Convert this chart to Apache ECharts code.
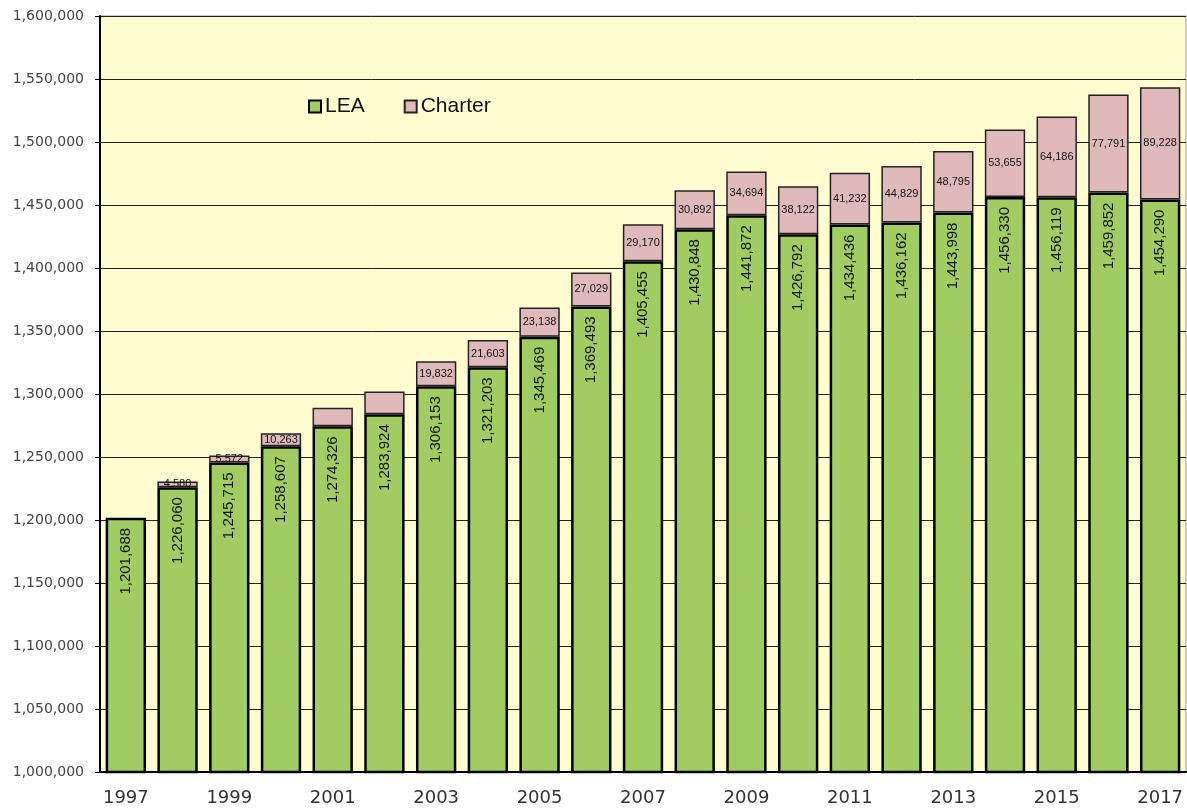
<!DOCTYPE html>
<html lang="en">
<head>
    <meta charset="UTF-8">
    <title>LEA and Charter enrollment</title>
    <style>
        html, body { margin: 0; padding: 0; background: #fff; }
        #chart { width: 1187px; height: 812px; }
    </style>
</head>
<body>
<div id="chart"></div>
<script src="https://cdn.jsdelivr.net/npm/echarts@6/dist/echarts.min.js"></script>
<script>
    var years = ['1997', '1998', '1999', '2000', '2001', '2002', '2003', '2004', '2005', '2006', '2007',
        '2008', '2009', '2010', '2011', '2012', '2013', '2014', '2015', '2016', '2017'];
    var leaValues = [1201688, 1226060, 1245715, 1258607, 1274326, 1283924, 1306153, 1321203, 1345469, 1369493,
        1405455, 1430848, 1441872, 1426792, 1434436, 1436162, 1443998, 1456330, 1456119, 1459852, 1454290];
    // 2001 and 2002 charter values have no label in the original
    var charterValues = [null, 4580, 5572, 10263, 14800, 18000, 19832, 21603, 23138, 27029,
        29170, 30892, 34694, 38122, 41232, 44829, 48795, 53655, 64186, 77791, 89228];
    var unlabelledCharter = ['2001', '2002'];
    var yMin = 1000000, yMax = 1600000, yStep = 50000;

    function fmt(v) {
        return Number(v).toLocaleString('en-US');
    }

    var myChart = echarts.init(document.getElementById('chart'));
    var option = {
        animation: false,
        textStyle: { fontFamily: 'DejaVu Sans' },
        grid: {
            left: 100, right: 1, top: 16, bottom: 40,
            show: true,
            backgroundColor: '#fffdd0',
            borderColor: '#999',
            borderWidth: 1
        },
        legend: {
            left: 303, top: 91,
            itemWidth: 12, itemHeight: 12,
            itemGap: 39,
            icon: 'rect',
            textStyle: { fontFamily: 'Liberation Sans', fontSize: 21, color: '#111', padding: [0, 0, 0, -1] },
            data: ['LEA', 'Charter']
        },
        xAxis: {
            type: 'category',
            data: years,
            axisLine: { lineStyle: { color: '#000', width: 2 } },
            axisTick: { interval: 1, length: 6, lineStyle: { color: '#000', width: 1 } },
            axisLabel: { interval: 1, fontSize: 18, color: '#333', margin: 17 }
        },
        yAxis: {
            type: 'value',
            min: yMin, max: yMax, interval: yStep,
            axisLine: { show: true, lineStyle: { color: '#000', width: 2 } },
            axisTick: { show: true, length: 5, lineStyle: { color: '#000' } },
            axisLabel: { fontSize: 14, color: '#444', margin: 16, formatter: fmt },
            splitLine: { lineStyle: { color: '#222', width: 1 } }
        },
        series: [
            {
                name: 'LEA',
                type: 'bar',
                stack: 'total',
                barWidth: '78%',
                data: leaValues,
                itemStyle: { color: '#a0cc62', borderColor: '#000', borderWidth: 2.5 },
                label: {
                    show: true,
                    position: 'insideTop',
                    distance: 10,
                    rotate: 90,
                    align: 'right',
                    verticalAlign: 'middle',
                    fontFamily: 'Liberation Sans',
                    fontSize: 15,
                    color: '#111',
                    formatter: function (p) { return fmt(p.value); }
                }
            },
            {
                name: 'Charter',
                type: 'bar',
                stack: 'total',
                barWidth: '78%',
                data: charterValues,
                itemStyle: { color: '#e0baba', borderColor: '#222', borderWidth: 1.5 },
                label: {
                    show: true,
                    position: 'inside',
                    fontFamily: 'Liberation Sans',
                    fontSize: 11,
                    color: '#111',
                    formatter: function (p) {
                        if (p.value == null || unlabelledCharter.indexOf(p.name) >= 0) return '';
                        return fmt(p.value);
                    }
                }
            }
        ]
    };
    myChart.setOption(option);
</script>
</body>
</html>
